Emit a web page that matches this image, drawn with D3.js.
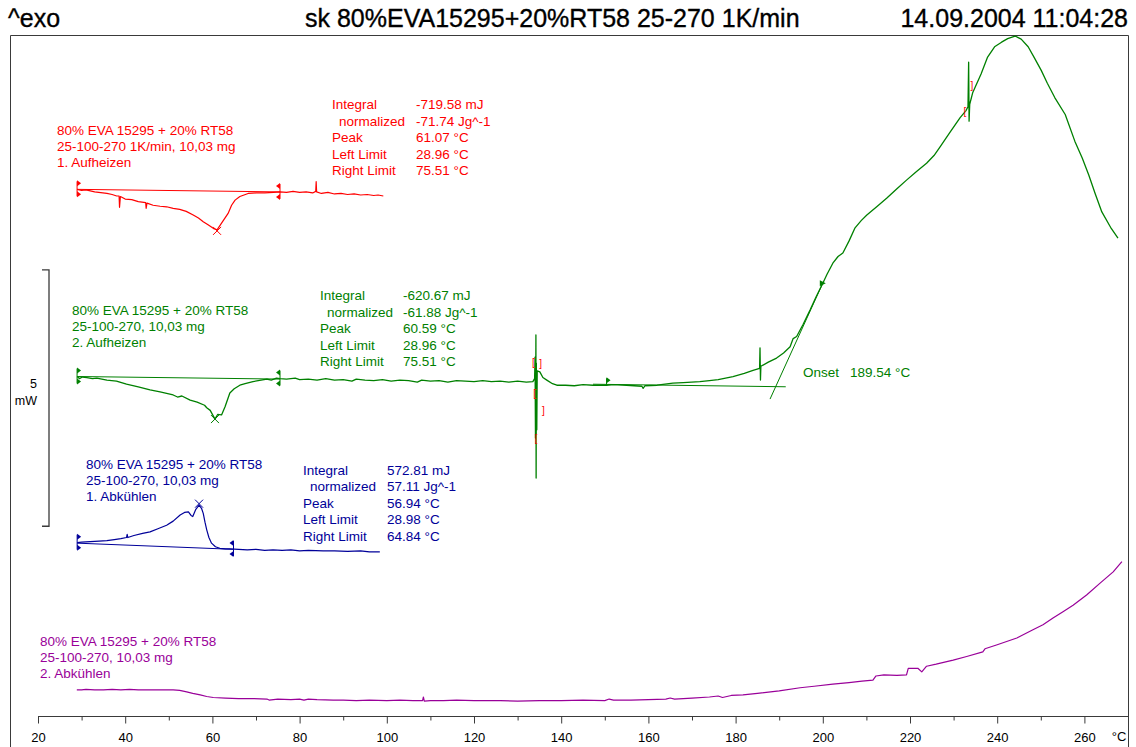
<!DOCTYPE html>
<html><head><meta charset="utf-8">
<script src="https://cdn.jsdelivr.net/npm/d3@7"></script>
<style>
html,body{margin:0;padding:0;background:#fff;}
svg{display:block;font-family:"Liberation Sans",Arial,sans-serif;}
</style></head><body>
<svg id="chart" width="1136" height="747"></svg>
<script>
// DSC run: 80% EVA 15295 + 20% RT58, heat flow in mW (curves stacked with offsets), temperature in °C
const titleLeft = "^exo";
const titleMain = "sk 80%EVA15295+20%RT58 25-270 1K/min";
const titleDate = "14.09.2004 11:04:28";

const majorTicks = [20, 40, 60, 80, 100, 120, 140, 160, 180, 200, 220, 240, 260];
const minorTicks = [30, 50, 70, 90, 110, 130, 150, 170, 190, 210, 230, 250, 270];
const scaleBarMW = 5;

// 1. Aufheizen (red)
const heat1 = [[28.96,10.29],[30,10.27],[31,10.28],[33,10.24],[35.8,10.21],[37,10.19],[38.05,10.16],[38.6,10.16],[38.7,9.94],[38.9,10.15],[40,10.10],[41.5,10.09],[43,10.05],[44.7,10.03],[44.8,9.92],[45,10.02],[46.4,9.98],[48,9.96],[49.5,9.95],[51,9.92],[52.5,9.90],[54,9.86],[55.6,9.79],[56.8,9.73],[57.9,9.66],[59,9.60],[60.2,9.53],[61.07,9.50],[62.1,9.63],[63.6,9.82],[64.4,9.98],[65.2,10.08],[66.3,10.15],[68.2,10.21],[70,10.22],[72,10.22],[74,10.23],[75.5,10.24],[77,10.23],[78.5,10.25],[80,10.23],[81.5,10.24],[83,10.22],[83.7,10.25],[83.8,10.44],[83.9,10.24],[85,10.21],[86.5,10.23],[88,10.20],[89.5,10.21],[91,10.19],[92.5,10.20],[94,10.18],[95.5,10.19],[97,10.17],[98,10.18],[99.2,10.16]];
const heat1Base = [[28.96,10.29],[75.51,10.24]];
const heat1Result = [-719.58, -71.74, 61.07, 28.96, 75.51];
const heat1Label = ["80% EVA 15295 + 20% RT58", "25-100-270 1K/min, 10,03 mg", "1. Aufheizen"];

// 2. Aufheizen (green)
const heat2 = [[28.96,6.64],[29.5,6.60],[30.2,6.63],[31.2,6.62],[32.5,6.60],[33.5,6.61],[35.8,6.57],[38,6.55],[40.3,6.49],[43,6.44],[45.7,6.38],[48,6.34],[51,6.28],[52,6.24],[53,6.26],[54.9,6.18],[56.5,6.14],[58.2,6.08],[58.7,6.03],[59.5,5.98],[60.59,5.81],[61.2,5.90],[62.1,5.89],[62.9,6.05],[64,6.32],[65,6.40],[66.3,6.47],[67.5,6.50],[69.3,6.54],[70.5,6.56],[72.5,6.59],[73.5,6.57],[74.7,6.61],[75.5,6.60],[77,6.59],[79,6.61],[80,6.58],[82,6.59],[84,6.57],[86,6.60],[88,6.57],[90,6.58],[92,6.55],[93,6.59],[95,6.57],[97,6.56],[99,6.58],[101,6.55],[103,6.57],[105,6.56],[107,6.53],[108,6.57],[110,6.55],[112,6.56],[114,6.53],[116,6.56],[118,6.55],[120,6.54],[122,6.56],[124,6.54],[126,6.55],[128,6.53],[130,6.55],[132,6.53],[133.5,6.54],[133.9,6.60],[134.0,7.02],[134.1,5.44],[134.2,7.45],[134.25,4.66],[134.3,6.90],[134.4,5.60],[134.5,6.75],[135.1,6.73],[135.8,6.62],[136.7,6.57],[138,6.50],[139,6.47],[141,6.47],[143,6.46],[145,6.48],[147.3,6.47],[150.4,6.47],[152,6.48],[155,6.47],[158.5,6.45],[158.8,6.41],[159.2,6.46],[162,6.47],[165.6,6.51],[168,6.52],[171.8,6.54],[174,6.56],[176,6.58],[179.4,6.64],[182,6.70],[184,6.76],[185.5,6.80],[185.6,7.20],[185.7,6.57],[185.8,6.84],[187.5,6.92],[189.4,7.00],[191,7.10],[192.5,7.22],[193.2,7.38],[194,7.42],[195.5,7.66],[197.1,7.94],[198.5,8.20],[200,8.46],[201,8.64],[202.3,8.85],[203.5,8.98],[204.6,9.05],[206,9.28],[207.4,9.54],[208.8,9.68],[210.1,9.79],[212.5,9.96],[214.7,10.12],[217,10.30],[219.2,10.47],[221.5,10.64],[223.8,10.80],[225.5,10.95],[226.9,11.12],[229,11.38],[231.5,11.69],[232.8,11.82],[233.3,11.90],[233.45,12.77],[233.55,11.62],[233.7,11.95],[234.4,12.18],[236.3,12.54],[237.8,12.87],[239.4,13.07],[241,13.16],[242.4,13.23],[244.1,13.28],[245.5,13.22],[247.1,13.07],[248.5,12.86],[250.1,12.61],[251.5,12.36],[253.2,12.08],[255.6,11.75],[257.8,11.23],[259.5,10.90],[261,10.57],[262.5,10.20],[264,9.85],[266,9.55],[267.7,9.34]];
const heat2Base = [[28.96,6.64],[75.51,6.59]];
const heat2Result = [-620.67, -61.88, 60.59, 28.96, 75.51];
const heat2Label = ["80% EVA 15295 + 20% RT58", "25-100-270, 10,03 mg", "2. Aufheizen"];
const onsetT = 189.54;
const onsetBase = [[147.3,6.49],[191.5,6.44]];
const onsetTangent = [[187.9,6.20],[200.0,8.46]];
// evaluation brackets around the disturbances
const brackets = [["[",133.6,6.93],["]",135.3,6.90],["[",133.9,6.32],["]",135.9,5.99],["[",134.2,5.44],["[",232.6,11.82],["]",234.2,12.32]];

// 1. Abkühlen (blue)
const cool1 = [[28.98,3.40],[30,3.41],[32,3.42],[34,3.43],[35.8,3.44],[37.5,3.46],[39,3.48],[40.3,3.50],[40.45,3.56],[40.6,3.50],[42,3.54],[44,3.58],[45.7,3.61],[47.5,3.67],[49.5,3.74],[51,3.82],[52.6,3.94],[53.6,3.99],[54.5,4.00],[55.1,3.93],[55.5,3.91],[56.2,4.05],[56.94,4.13],[57.5,4.07],[57.9,3.97],[58.3,3.80],[58.7,3.65],[59.2,3.50],[59.8,3.39],[60.7,3.32],[61.7,3.29],[63,3.28],[64,3.28],[66,3.27],[68,3.26],[70,3.27],[72,3.25],[73.9,3.26],[76,3.25],[78,3.26],[80,3.24],[82,3.25],[85.4,3.24],[88,3.24],[91,3.23],[94,3.24],[96,3.22],[98.4,3.22]];
const cool1Base = [[28.98,3.39],[64.84,3.27]];
const cool1Result = [572.81, 57.11, 56.94, 28.98, 64.84];
const cool1Label = ["80% EVA 15295 + 20% RT58", "25-100-270, 10,03 mg", "1. Abkühlen"];

// 2. Abkühlen (purple)
const cool2 = [[28.9,0.53],[30,0.53],[31,0.54],[33,0.53],[35,0.53],[37,0.54],[39,0.53],[41,0.54],[43,0.53],[45,0.53],[48,0.53],[51,0.53],[52.5,0.52],[54.1,0.49],[55.5,0.46],[57.2,0.43],[58.7,0.40],[60.2,0.38],[63,0.37],[66,0.36],[69,0.36],[72.5,0.35],[73,0.33],[75,0.35],[78,0.34],[80,0.35],[81,0.33],[82,0.35],[84,0.34],[87.7,0.33],[90,0.33],[93,0.32],[96,0.33],[100,0.32],[103,0.33],[106,0.32],[108.2,0.32],[108.4,0.39],[108.6,0.31],[110,0.32],[113,0.32],[116,0.33],[120,0.32],[126,0.32],[130,0.31],[135,0.32],[140,0.32],[145,0.33],[150,0.32],[151,0.35],[152,0.33],[156,0.33],[160,0.34],[164,0.35],[165,0.37],[166,0.35],[170,0.37],[174,0.39],[176,0.41],[177,0.38],[179,0.42],[181.7,0.43],[185,0.46],[190,0.51],[194.8,0.57],[198,0.60],[202.3,0.64],[206,0.67],[209,0.70],[211.5,0.72],[212.2,0.80],[214,0.82],[217,0.81],[219.2,0.82],[219.6,0.95],[221.8,0.95],[222.7,0.88],[223.8,0.99],[226,1.03],[229.9,1.11],[233,1.18],[236.7,1.27],[237.2,1.33],[240,1.41],[244.5,1.54],[248.2,1.70],[250.5,1.80],[252.8,1.93],[255,2.05],[257.4,2.18],[260.5,2.38],[263.6,2.61],[266.6,2.83],[268.6,3.03]];
const cool2Label = ["80% EVA 15295 + 20% RT58", "25-100-270, 10,03 mg", "2. Abkühlen"];

const resultNames = ["Integral", "normalized", "Peak", "Left Limit", "Right Limit"];
const resultUnits = ["mJ", "Jg^-1", "°C", "°C", "°C"];

const RED = "#ff0000", GREEN = "#008000", BLUE = "#000099", PURPLE = "#990099", FRAME = "#3a3a3a";
const FS = 13.5;

const svg = d3.select("#chart");
const x = d3.scaleLinear().domain([20, 270]).range([38, 1128]);
const y = d3.scaleLinear().domain([0, 13.3]).range([717, 35]);
const line = d3.line().x(d => x(d[0])).y(d => y(d[1]));

function valueAt(series, t) {
  const i = d3.bisector(d => d[0]).left(series, t);
  if (i <= 0) return series[0][1];
  if (i >= series.length) return series[series.length - 1][1];
  const a = series[i - 1], b = series[i];
  return a[1] + (b[1] - a[1]) * (t - a[0]) / (b[0] - a[0]);
}

// title row
function title(s, x0, anchor) {
  svg.append("text").attr("x", x0).attr("y", 27).attr("font-size", 25).attr("text-anchor", anchor)
    .attr("fill", "#000").attr("stroke", "#000").attr("stroke-width", 0.35).text(s);
}
title(titleLeft, 8, "start");
title(titleMain, 305, "start");
title(titleDate, 1128, "end");

// open frame
svg.append("path").attr("d", "M10.5,747V35.5H1128.5V747").attr("fill", "none").attr("stroke", FRAME).attr("stroke-width", 1);

// temperature axis
const axisY = 716.5;
const gMinor = svg.append("g").attr("transform", `translate(0,${axisY})`)
  .call(d3.axisBottom(x).tickValues(minorTicks).tickSize(4).tickSizeOuter(0).tickFormat(""));
gMinor.select(".domain").remove();
const gMajor = svg.append("g").attr("transform", `translate(0,${axisY})`)
  .call(d3.axisBottom(x).tickValues(majorTicks).tickSize(7).tickSizeOuter(0).tickPadding(9).tickFormat(d3.format("d")));
gMajor.select(".domain").attr("stroke", FRAME).attr("d", `M${x(20)},0H${x(270)}`);
svg.selectAll(".tick line").attr("stroke", FRAME);
gMajor.selectAll("text").attr("font-size", 13).attr("font-family", "Liberation Sans, Arial, sans-serif").attr("fill", "#000");
svg.append("text").attr("x", 1119).attr("y", 741).attr("font-size", 13).attr("text-anchor", "middle").text("°C");

// 5 mW scale bar
const barTop = y(8.72), barBot = y(8.72 - scaleBarMW);
svg.append("path").attr("d", `M42,${barTop}H49V${barBot}H42`).attr("fill", "none").attr("stroke", FRAME).attr("stroke-width", 1.3);
svg.append("text").attr("x", 37).attr("y", 388).attr("font-size", 12.5).attr("text-anchor", "end").text(String(scaleBarMW));
svg.append("text").attr("x", 37).attr("y", 405).attr("font-size", 12.5).attr("text-anchor", "end").text("mW");

function drawCurve(data, color, w) {
  svg.append("path").datum(data).attr("d", line).attr("fill", "none").attr("stroke", color)
    .attr("stroke-width", w).attr("stroke-linejoin", "round");
}
function drawBase(data, color) {
  svg.append("path").datum(data).attr("d", line).attr("fill", "none").attr("stroke", color).attr("stroke-width", 1);
}
function limitMarker(series, t, color, dir) {
  const cx = x(t), cy = y(valueAt(series, t));
  const g = svg.append("g").attr("fill", color).attr("stroke", color);
  g.append("line").attr("x1", cx).attr("x2", cx).attr("y1", cy - 8).attr("y2", cy + 7).attr("stroke-width", 1);
  const tri = dir > 0 ? "M0,-3L4,0L0,3Z" : "M0,-3L-4,0L0,3Z";
  g.append("path").attr("d", tri).attr("transform", `translate(${cx},${cy - 6})`).attr("stroke", "none");
  g.append("path").attr("d", tri).attr("transform", `translate(${cx},${cy + 5})`).attr("stroke", "none");
}
function peakCross(t, v, color) {
  const cx = x(t), cy = y(v), s = 4;
  svg.append("path").attr("d", `M${cx - s},${cy - s}L${cx + s},${cy + s}M${cx - s},${cy + s}L${cx + s},${cy - s}`)
    .attr("stroke", color).attr("stroke-width", 1).attr("fill", "none");
}
function labelBlock(lines, x0, y0, color) {
  lines.forEach((s, i) => svg.append("text").attr("x", x0).attr("y", y0 + i * 16.2)
    .attr("font-size", FS).attr("fill", color).text(s));
}
function resultBlock(vals, x0, xv, y0, color) {
  resultNames.forEach((n, i) => {
    const yy = y0 + i * 16.5;
    svg.append("text").attr("x", x0 + (i === 1 ? 7 : 0)).attr("y", yy).attr("font-size", FS).attr("fill", color).text(n);
    svg.append("text").attr("x", xv).attr("y", yy).attr("font-size", FS).attr("fill", color)
      .text(vals[i].toFixed(2) + " " + resultUnits[i]);
  });
}

// red: first heating
drawBase(heat1Base, RED);
drawCurve(heat1, RED, 1.2);
limitMarker(heat1, heat1Result[3], RED, 1);
limitMarker(heat1, heat1Result[4], RED, -1);
peakCross(heat1Result[2], valueAt(heat1, heat1Result[2]) - 0.02, RED);
labelBlock(heat1Label, 57, 134.5, RED);
resultBlock(heat1Result, 332, 416, 109, RED);

// green: second heating
drawBase(heat2Base, GREEN);
drawBase(onsetBase, GREEN);
drawBase(onsetTangent, GREEN);
drawCurve(heat2, GREEN, 1.3);
limitMarker(heat2, heat2Result[3], GREEN, 1);
limitMarker(heat2, heat2Result[4], GREEN, -1);
peakCross(heat2Result[2], valueAt(heat2, heat2Result[2]), GREEN);
{
  // evaluation range flag and tangent point
  const fx = x(150.4), fy = y(valueAt(heat2, 150.4));
  svg.append("line").attr("x1", fx).attr("x2", fx).attr("y1", fy - 7).attr("y2", fy).attr("stroke", GREEN);
  svg.append("path").attr("d", "M0,-3L4,0L0,3Z").attr("transform", `translate(${fx},${fy - 5})`).attr("fill", GREEN);
  const tx = x(onsetTangent[1][0]), ty = y(onsetTangent[1][1]);
  svg.append("path").attr("d", "M-3,-3L3,0L-3,3Z").attr("transform", `translate(${tx},${ty})`).attr("fill", GREEN);
}
brackets.forEach(b => svg.append("text").attr("x", x(b[1])).attr("y", y(b[2]) + 4).attr("text-anchor", "middle")
  .attr("font-size", 10).attr("fill", RED).text(b[0]));
labelBlock(heat2Label, 72, 314.5, GREEN);
resultBlock(heat2Result, 320, 403, 300, GREEN);
svg.append("text").attr("x", 803).attr("y", 376.5).attr("font-size", FS).attr("fill", GREEN).text("Onset");
svg.append("text").attr("x", 850).attr("y", 376.5).attr("font-size", FS).attr("fill", GREEN).text(onsetT.toFixed(2) + " °C");

// blue: first cooling
drawBase(cool1Base, BLUE);
drawCurve(cool1, BLUE, 1.2);
limitMarker(cool1, cool1Result[3], BLUE, 1);
limitMarker(cool1, cool1Result[4], BLUE, -1);
peakCross(cool1Result[2], valueAt(cool1, cool1Result[2]) + 0.03, BLUE);
labelBlock(cool1Label, 86, 468.5, BLUE);
resultBlock(cool1Result, 303, 387, 474.5, BLUE);

// purple: second cooling
drawCurve(cool2, PURPLE, 1.2);
labelBlock(cool2Label, 40, 646, PURPLE);
</script>
</body></html>
